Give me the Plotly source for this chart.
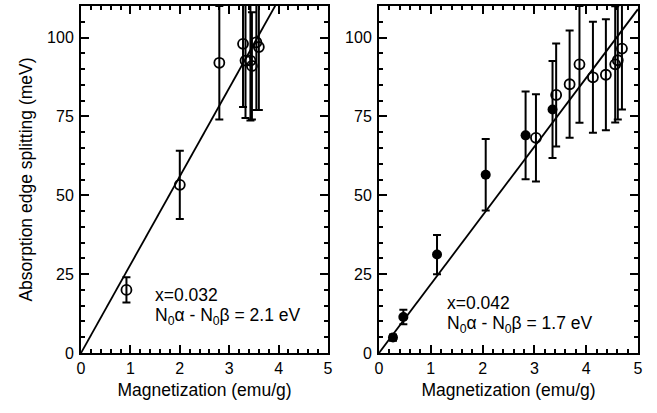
import plotly.graph_objects as go

# ---- data ----
# left panel, x = 0.032 (open circles)
left_m = [0.92, 2.00, 2.80, 3.28, 3.33, 3.43, 3.46, 3.55, 3.60]
left_e = [20.0, 53.3, 92.0, 98.0, 92.7, 92.7, 91.0, 98.5, 97.0]
left_err = [4.0, 10.8, 18.0, 20.0, 18.2, 19.0, 17.0, 21.5, 20.0]
left_slope = 28.0

# right panel, x = 0.042, filled circles
right_f_m = [0.27, 0.47, 1.12, 2.06, 2.83, 3.35]
right_f_e = [4.9, 11.4, 31.2, 56.5, 69.0, 77.2]
right_f_err = [1.0, 2.3, 6.2, 11.3, 13.9, 15.4]
# right panel, open circles
right_o_m = [3.03, 3.42, 3.68, 3.87, 4.13, 4.38, 4.56, 4.61, 4.69]
right_o_e = [68.2, 81.8, 85.2, 91.5, 87.4, 88.2, 91.5, 92.8, 96.5]
right_o_err = [13.8, 16.3, 17.0, 18.5, 17.6, 17.6, 18.4, 18.8, 19.3]
right_slope = 21.8

x_ticks = [0, 1, 2, 3, 4, 5]
y_ticks = [0, 25, 50, 75, 100]

fit_x = [0, 5]

FONT = "Liberation Sans, Arial, sans-serif"
TICK_SIZE = 16
TEXT_SIZE = 17.5

fig = go.Figure()

def err(vals):
    return dict(type="data", array=vals, visible=True, color="black",
                thickness=2, width=4)

fig.add_trace(go.Scatter(x=fit_x, y=[left_slope * v for v in fit_x], mode="lines",
                         line=dict(color="black", width=1.8), xaxis="x", yaxis="y",
                         showlegend=False, hoverinfo="skip"))
fig.add_trace(go.Scatter(x=left_m, y=left_e, error_y=err(left_err), mode="markers",
                         marker=dict(symbol="circle-open", size=10, color="black",
                                     line=dict(width=1.8, color="black")),
                         xaxis="x", yaxis="y", showlegend=False))

fig.add_trace(go.Scatter(x=fit_x, y=[right_slope * v for v in fit_x], mode="lines",
                         line=dict(color="black", width=1.8), xaxis="x2", yaxis="y2",
                         showlegend=False, hoverinfo="skip"))
fig.add_trace(go.Scatter(x=right_o_m, y=right_o_e, error_y=err(right_o_err), mode="markers",
                         marker=dict(symbol="circle-open", size=10, color="black",
                                     line=dict(width=1.8, color="black")),
                         xaxis="x2", yaxis="y2", showlegend=False))
fig.add_trace(go.Scatter(x=right_f_m, y=right_f_e, error_y=err(right_f_err), mode="markers",
                         marker=dict(symbol="circle", size=10, color="black"),
                         xaxis="x2", yaxis="y2", showlegend=False))

W, H = 657, 413
ML, MR, MT, MB = 81, 19, 6, 60
PW = W - ML - MR

def xaxis(dom, anchor):
    return dict(domain=dom, anchor=anchor, range=[0, 5], tickvals=x_ticks,
                ticktext=[str(v) for v in x_ticks], automargin=False,
                ticks="inside", ticklen=8, tickwidth=1.5, tickcolor="black",
                minor=dict(dtick=0.2, ticks="inside", ticklen=4, tickwidth=1.5, tickcolor="black"),
                showline=True, linewidth=2, linecolor="black", mirror="ticks",
                showgrid=False, zeroline=False,
                tickfont=dict(family=FONT, size=TICK_SIZE, color="black"),
                title=dict(text="Magnetization (emu/g)", standoff=8,
                           font=dict(family=FONT, size=TEXT_SIZE, color="black")))

def yaxis(anchor, title):
    d = dict(domain=[0, 1], anchor=anchor, range=[0, 110], tickvals=y_ticks,
             ticktext=[str(v) for v in y_ticks], automargin=False,
             ticks="inside", ticklen=8, tickwidth=1.5, tickcolor="black",
             minor=dict(dtick=5, ticks="inside", ticklen=4, tickwidth=1.5, tickcolor="black"),
             showline=True, linewidth=2, linecolor="black", mirror="ticks",
             showgrid=False, zeroline=False, ticklabelstandoff=2,
             tickfont=dict(family=FONT, size=TICK_SIZE, color="black"))
    if title:
        d["title"] = dict(text=title, standoff=10,
                          font=dict(family=FONT, size=TEXT_SIZE, color="black"))
    return d

fig.update_layout(
    width=W, height=H,
    margin=dict(l=ML, r=MR, t=MT, b=MB, autoexpand=False),
    paper_bgcolor="white", plot_bgcolor="white",
    xaxis=xaxis([0, (328 - ML) / PW], "y"),
    yaxis=yaxis("x", "Absorption edge splitting (meV)"),
    xaxis2=xaxis([(379 - ML) / PW, 1], "y2"),
    yaxis2=yaxis("x2", None),
    font=dict(family=FONT, color="black"),
)

ann_font = dict(family=FONT, size=TEXT_SIZE, color="black")
fig.add_annotation(x=1.46, y=18.3, xref="x", yref="y", text="x=0.032",
                   showarrow=False, xanchor="left", yanchor="middle", font=ann_font)
fig.add_annotation(x=1.46, y=11.5, xref="x", yref="y",
                   text="N<sub>0</sub>α - N<sub>0</sub>β = 2.1 eV",
                   showarrow=False, xanchor="left", yanchor="middle", font=ann_font)
fig.add_annotation(x=1.28, y=15.7, xref="x2", yref="y2", text="x=0.042",
                   showarrow=False, xanchor="left", yanchor="middle", font=ann_font)
fig.add_annotation(x=1.28, y=9.0, xref="x2", yref="y2",
                   text="N<sub>0</sub>α - N<sub>0</sub>β = 1.7 eV",
                   showarrow=False, xanchor="left", yanchor="middle", font=ann_font)

fig.write_html("out.html", config={"displayModeBar": False},
               post_script="document.body.style.margin='0';document.body.style.overflow='hidden';")
